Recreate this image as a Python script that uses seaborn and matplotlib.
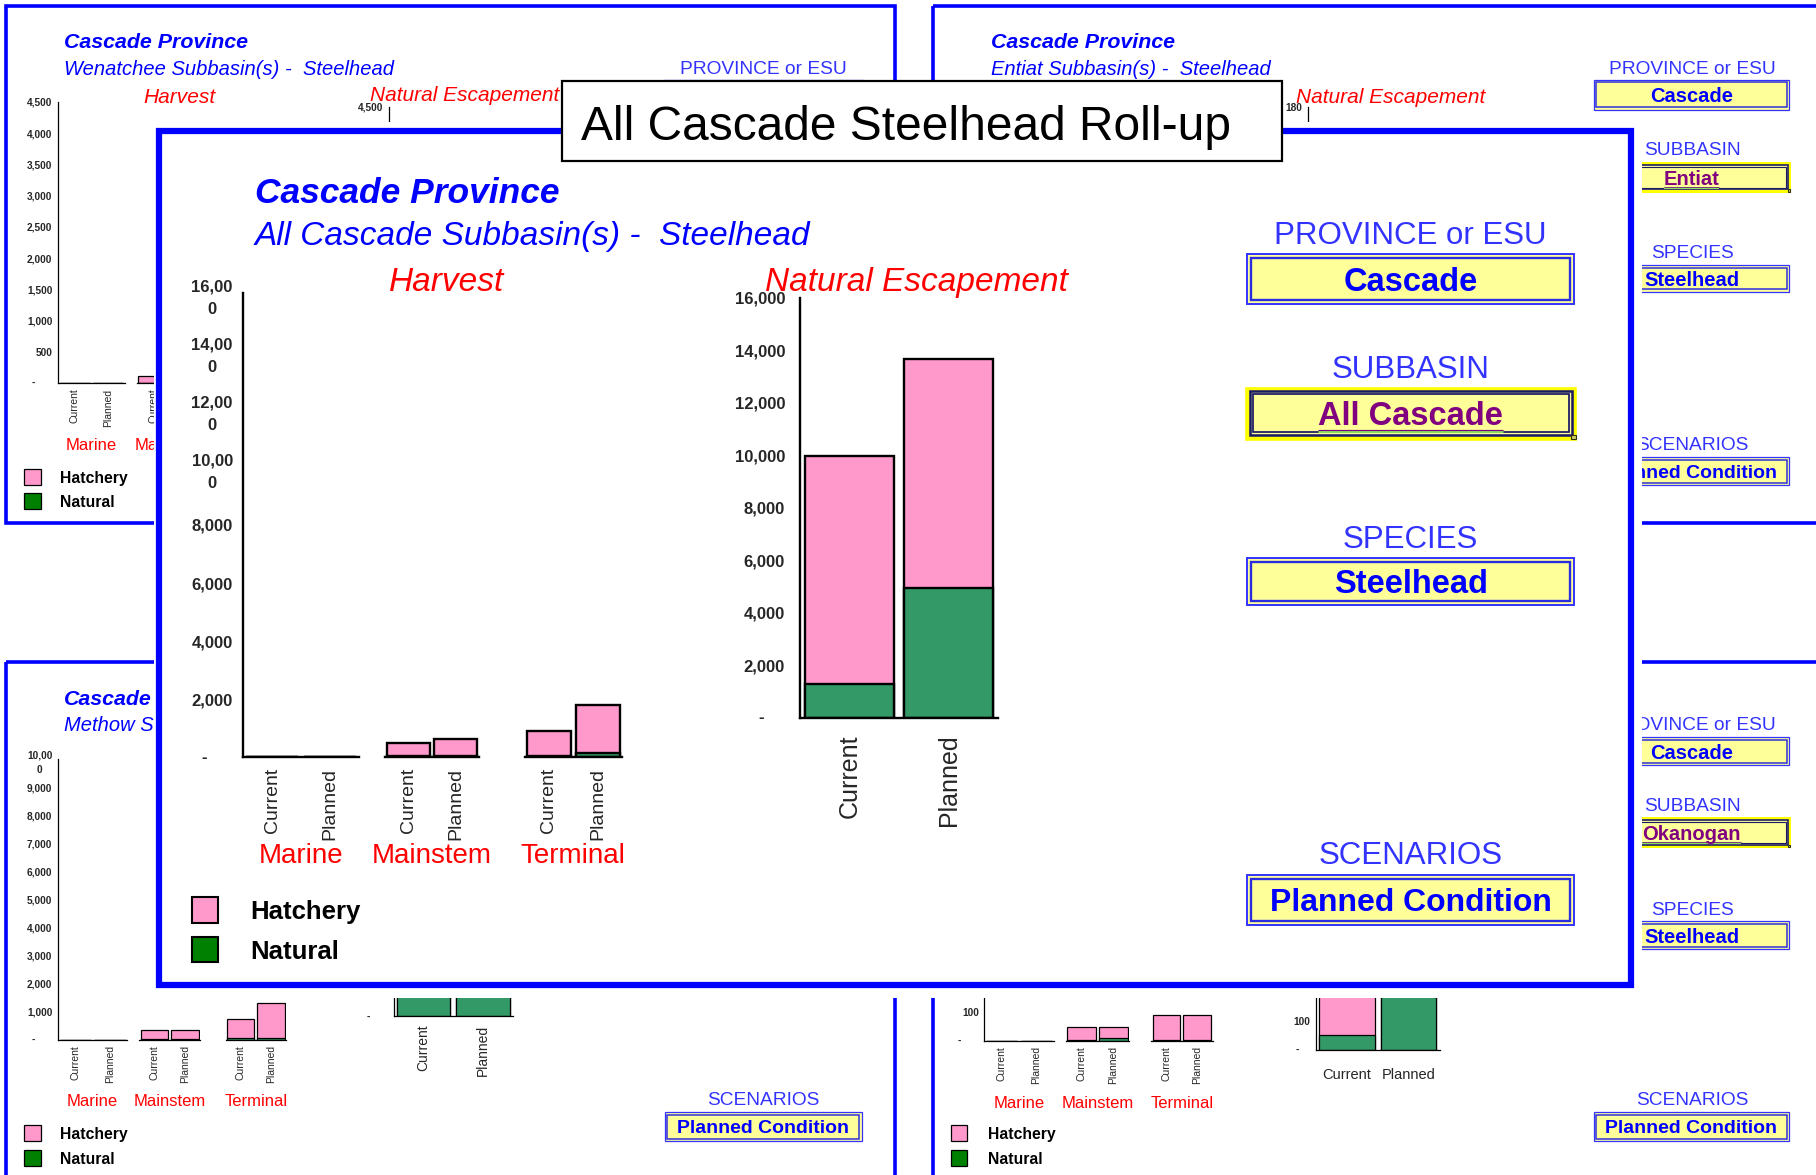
import matplotlib
matplotlib.use("Agg")
import matplotlib.pyplot as plt
from matplotlib.patches import Rectangle
from matplotlib.transforms import Bbox
import seaborn as sns

# ---------------- values ----------------
scenarios = ["Current", "Planned"]
areas = ["Marine", "Mainstem", "Terminal"]

# main panel: All Cascade roll-up
allc_marine_hatchery = [0, 0]
allc_marine_natural = [0, 0]
allc_mainstem_hatchery = [430, 560]
allc_mainstem_natural = [40, 50]
allc_terminal_hatchery = [840, 1630]
allc_terminal_natural = [45, 150]
allc_escape_hatchery = [8690, 8690]
allc_escape_natural = [1270, 4950]

# Wenatchee (top left, mostly covered)
wen_marine_hatchery = [0, 0]
wen_marine_natural = [0, 0]
wen_mainstem_hatchery = [100, 100]
wen_mainstem_natural = [10, 10]

# Methow (bottom left)
met_marine_hatchery = [0, 0]
met_marine_natural = [0, 0]
met_mainstem_hatchery = [300, 300]
met_mainstem_natural = [30, 30]
met_terminal_hatchery = [700, 1280]
met_terminal_natural = [40, 40]
met_escape_hatchery = [4000, 4000]
met_escape_natural = [2000, 2500]

# Okanogan (bottom right)
oka_marine_hatchery = [0, 0]
oka_marine_natural = [0, 0]
oka_mainstem_hatchery = [45, 37]
oka_mainstem_natural = [3, 11]
oka_terminal_hatchery = [85, 85]
oka_terminal_natural = [3, 3]
oka_escape_hatchery = [250, 150]
oka_escape_natural = [53, 400]

BLUE = "#0000FF"
HDR = "#3333FF"
RED = "#FF0000"
PINK = "#FF99CC"
GREEN = "#339966"
LEG_GREEN = "#008000"
YELLOW = "#FFFF99"
PURPLE = "#800080"

sns.set_style("white")
plt.rcParams["font.family"] = ["Liberation Sans", "DejaVu Sans"]
plt.rcParams["axes.edgecolor"] = "black"

# layout grid = the shrunk reference (1568 x 1015)
W, H = 1568, 1015
FIG_W, FIG_H = 1816, 1175
fig = plt.figure(figsize=(FIG_W / 100, FIG_H / 100), dpi=100)

# the part of the left dashboards that is not under the roll-up panel
left_strip = Bbox.from_extents(0, 0, 133 / W * FIG_W, FIG_H)


def rect(x0, y0, x1, y1):
    return [x0 / W, 1 - y1 / H, (x1 - x0) / W, (y1 - y0) / H]


def canvas(z):
    ax = fig.add_axes([0, 0, 1, 1], zorder=z)
    ax.set_xlim(0, W)
    ax.set_ylim(H, 0)
    ax.axis("off")
    return ax


def put(ax, x, y, s, fs, clip=None, **kw):
    # y is the visual centre of the capitals
    t = ax.text(x, y + 0.12 * fs, s, fontsize=fs, va="center", **kw)
    if clip is not None:
        t.set_clip_box(clip)
        t.set_clip_on(True)
    return t


def fmt_count(v, wrap):
    if v == 0:
        return ""
    s = f"{v:,}"
    if wrap and len(s) > 5:
        s = s[:5] + "\n" + s[5:]
    return s


def stacked_bars(ax, hatchery, natural, lw):
    total = [h + n for h, n in zip(hatchery, natural)]
    sns.barplot(x=scenarios, y=total, color=PINK, saturation=1, width=0.9,
                edgecolor="black", linewidth=lw, errorbar=None, ax=ax)
    sns.barplot(x=scenarios, y=natural, color=GREEN, saturation=1, width=0.9,
                edgecolor="black", linewidth=lw, errorbar=None, ax=ax)


def style_axes(ax, ymax, step, show_y, fs_y, wrap, lw, tick_len, xrot, fs_x,
               xpad, ypad, dash_off, shown=None, xlabels=True):
    ax.set_facecolor("none")
    ax.set_xlim(-0.5, 1.5)
    ax.set_ylim(0, ymax)
    sns.despine(ax=ax, top=True, right=True, left=not show_y)
    for s in ["bottom", "left"]:
        ax.spines[s].set_linewidth(lw)
    ax.set_xticks([0, 1])
    ax.set_xticklabels(scenarios if xlabels else ["", ""], rotation=xrot,
                       fontsize=fs_x)
    ax.set_xticks([-0.5, 0.5, 1.5], minor=True)
    ax.tick_params(axis="x", which="major", length=0, pad=xpad)
    ax.tick_params(axis="x", which="minor", length=tick_len, width=lw,
                   direction="out")
    if show_y:
        ticks = list(range(0, ymax + 1, step))
        if shown is not None:
            ticks = [t for t in ticks if t in shown]
        ax.set_yticks(ticks)
        labels = ax.set_yticklabels([fmt_count(t, wrap) for t in ticks],
                                    fontsize=fs_y, fontweight="bold")
        for lb in labels:
            lb.set_multialignment("center")
            lb.set_linespacing(1.6)
        ax.tick_params(axis="y", length=tick_len, width=lw, direction="out",
                       pad=ypad)
        if 0 in ticks:
            ax.annotate("-", xy=(0, 0), xycoords=("axes fraction", "data"),
                        xytext=(-dash_off, 0), textcoords="offset points",
                        ha="center", va="center", fontsize=fs_y,
                        fontweight="bold")
    else:
        ax.set_yticks([])


def harvest_block(segments, y_top, y_bot, ymax, step, data, z, big, shown=None):
    if big:
        opts = dict(fs_y=12, wrap=True, lw=1.7, tick_len=4.5, xrot=90, fs_x=14,
                    xpad=8, ypad=3, dash_off=28)
        grp_fs, grp_pad = 20, 2
    else:
        opts = dict(fs_y=7.3, wrap=(ymax >= 10000), lw=0.9, tick_len=2.5,
                    xrot=90, fs_x=7.5, xpad=4, ypad=1.5, dash_off=18)
        grp_fs, grp_pad = 12, 8
    for i, ((x0, x1), (hatch, nat)) in enumerate(zip(segments, data)):
        ax = fig.add_axes(rect(x0, y_top, x1, y_bot), zorder=z)
        stacked_bars(ax, hatch, nat, opts["lw"])
        style_axes(ax, ymax, step, i == 0, shown=shown, **opts)
        ax.set_xlabel(areas[i], color=RED, fontsize=grp_fs, labelpad=grp_pad)


def escape_block(x0, y_top, x1, y_bot, ymax, step, hatch, nat, z, fs_y, fs_x,
                 xrot, xpad, ypad, dash_off, lw, tick_len, shown=None):
    ax = fig.add_axes(rect(x0, y_top, x1, y_bot), zorder=z)
    if hatch is not None:
        stacked_bars(ax, hatch, nat, lw)
    style_axes(ax, ymax, step, True, fs_y, False, lw, tick_len, xrot, fs_x,
               xpad, ypad, dash_off, shown=shown, xlabels=hatch is not None)
    return ax


def select_box(ax, x0, y0, x1, y1, text, fs, inset, purple=False, lw=1.0):
    cx, cy = (x0 + x1) / 2, (y0 + y1) / 2
    if purple:
        ax.add_patch(Rectangle((x0, y0), x1 - x0, y1 - y0, facecolor=YELLOW,
                               edgecolor="#FFFF00", lw=lw * 2.4))
        ax.add_patch(Rectangle((x0 + inset * 0.6, y0 + inset * 0.6),
                               x1 - x0 - inset * 1.2, y1 - y0 - inset * 1.2,
                               facecolor="none", edgecolor="#1A1A66",
                               lw=lw * 1.3))
        ax.add_patch(Rectangle((x0 + inset * 1.3, y0 + inset * 1.3),
                               x1 - x0 - inset * 2.6, y1 - y0 - inset * 2.6,
                               facecolor="none", edgecolor="#1A1A66",
                               lw=lw * 0.9))
        t = put(ax, cx, cy, text, fs, ha="center", fontweight="bold",
                color=PURPLE)
        bb = t.get_window_extent(fig.canvas.get_renderer())
        (ux0, uy0), (ux1, _) = ax.transData.inverted().transform(
            [[bb.x0, bb.y0], [bb.x1, bb.y1]])
        uy = uy0 - inset * 0.35
        ax.plot([ux0, ux1], [uy, uy], color="#88E060", lw=lw * 1.6,
                solid_capstyle="butt")
        ax.plot([ux0, ux1], [uy - inset * 0.2, uy - inset * 0.2],
                color=PURPLE, lw=lw * 0.6, solid_capstyle="butt")
        hs = inset * 1.1
        ax.add_patch(Rectangle((x1 - hs * 0.6, y1 - hs * 0.6), hs, hs,
                               facecolor="#CCCC66", edgecolor="#333300",
                               lw=0.8))
    else:
        ax.add_patch(Rectangle((x0, y0), x1 - x0, y1 - y0, facecolor=YELLOW,
                               edgecolor=HDR, lw=lw))
        ax.add_patch(Rectangle((x0 + inset, y0 + inset), x1 - x0 - 2 * inset,
                               y1 - y0 - 2 * inset, facecolor="none",
                               edgecolor="#2B2BE0", lw=lw * 1.2))
        put(ax, cx, cy, text, fs, ha="center", fontweight="bold", color=BLUE)


def legend(ax, x, y_h, y_n, size, tx, fs, lw):
    for yc, col, lab in [(y_h, PINK, "Hatchery"), (y_n, LEG_GREEN, "Natural")]:
        ax.add_patch(Rectangle((x, yc - size / 2), size, size, facecolor=col,
                               edgecolor="black", lw=lw))
        put(ax, tx, yc, lab, fs, ha="left", fontweight="bold", color="black")


def headings(ax, x, y1, y2, title, sub, fs1, fs2, clip=None):
    put(ax, x, y1, title, fs1, clip=clip, ha="left", fontweight="bold",
        fontstyle="italic", color=BLUE)
    put(ax, x, y2, sub, fs2, clip=clip, ha="left", fontstyle="italic",
        color=BLUE)


# ---------------- background dashboards ----------------
bg = canvas(1)
for (x0, y0, x1, y1) in [(5, 5, 773, 452), (806, 5, 1640, 452),
                         (5, 572, 773, 1100), (806, 572, 1640, 1100)]:
    bg.add_patch(Rectangle((x0, y0), x1 - x0, y1 - y0, facecolor="none",
                           edgecolor=BLUE, lw=2.6))

# top left: Wenatchee
headings(bg, 55, 35, 58, "Cascade Province",
         "Wenatchee Subbasin(s) -  Steelhead", 15.4, 14.5)
put(bg, 155, 82, "Harvest", 15, ha="center", fontstyle="italic", color=RED)
put(bg, 401, 81, "Natural Escapement", 15, ha="center", fontstyle="italic",
    color=RED)
put(bg, 659, 58, "PROVINCE or ESU", 13.8, ha="center", color=HDR)
select_box(bg, 573, 69, 745, 95, "Cascade", 14.5, 2.2, lw=0.9)
legend(bg, 21, 412, 433, 14, 52, 11.3, 0.9)

# top right: Entiat
headings(bg, 856, 35, 58, "Cascade Province",
         "Entiat Subbasin(s) -  Steelhead", 15.4, 14.5)
put(bg, 1201, 82, "Natural Escapement", 15, ha="center", fontstyle="italic",
    color=RED)
for yh, lab, (by0, by1), txt, purple in [
        (58, "PROVINCE or ESU", (69, 95), "Cascade", False),
        (128, "SUBBASIN", (141, 165), "Entiat", True),
        (217, "SPECIES", (229, 252), "Steelhead", False),
        (383, "SCENARIOS", (395, 419), "Planned Condition", False)]:
    put(bg, 1461, yh, lab, 13.8, ha="center", color=HDR)
    select_box(bg, 1376, by0, 1545, by1, txt, 14.5 if len(txt) < 12 else 14,
               2.2, purple=purple, lw=0.9)

# bottom left: Methow (only the left edge of its heading shows)
headings(bg, 55, 602, 625, "Cascade", "Methow S", 15.4, 14.5, clip=left_strip)
put(bg, 155, 649, "H", 15, clip=left_strip, ha="center", fontstyle="italic",
    color=RED)
legend(bg, 21, 979, 1000, 14, 52, 11.3, 0.9)
put(bg, 659, 949, "SCENARIOS", 13.8, ha="center", color=HDR)
select_box(bg, 574, 961, 744, 986, "Planned Condition", 14, 2.2, lw=0.9)

# bottom right: Okanogan
for yh, lab, (by0, by1), txt, purple in [
        (625, "PROVINCE or ESU", (637, 661), "Cascade", False),
        (695, "SUBBASIN", (707, 731), "Okanogan", True),
        (785, "SPECIES", (796, 820), "Steelhead", False),
        (949, "SCENARIOS", (961, 986), "Planned Condition", False)]:
    put(bg, 1461, yh, lab, 13.8, ha="center", color=HDR)
    select_box(bg, 1376, by0, 1545, by1, txt, 14.5 if len(txt) < 12 else 14,
               2.2, purple=purple, lw=0.9)
legend(bg, 821, 979, 1000, 14, 853, 11.3, 0.9)

# mini charts (only the tick labels that show outside the roll-up panel)
harvest_block([(50, 108), (118, 176)], 88, 331, 4500, 500,
              [(wen_marine_hatchery, wen_marine_natural),
               (wen_mainstem_hatchery, wen_mainstem_natural)], 2, False)
escape_block(336, 92, 440, 335, 4500, 500, None, None, 2, 7.3, 7.5, 90, 4,
             1.5, 18, 0.9, 2.5, shown=[4500])
escape_block(1129, 92, 1233, 335, 180, 20, None, None, 2, 7.3, 7.5, 90, 4,
             1.5, 18, 0.9, 2.5, shown=[180])
harvest_block([(50, 110), (120, 173), (195, 247)], 656, 898, 10000, 1000,
              [(met_marine_hatchery, met_marine_natural),
               (met_mainstem_hatchery, met_mainstem_natural),
               (met_terminal_hatchery, met_terminal_natural)], 2, False)
escape_block(340, 636, 443, 878, 10000, 1000, met_escape_hatchery,
             met_escape_natural, 2, 7.3, 10, 90, 6, 1.5, 18, 0.9, 2.5,
             shown=[0])
harvest_block([(850, 910), (920, 975), (994, 1047)], 649, 899, 1000, 100,
              [(oka_marine_hatchery, oka_marine_natural),
               (oka_mainstem_hatchery, oka_mainstem_natural),
               (oka_terminal_hatchery, oka_terminal_natural)], 2, False,
              shown=[0, 100])
escape_block(1136, 657, 1243, 907, 1000, 100, oka_escape_hatchery,
             oka_escape_natural, 2, 7.3, 10.5, 0, 13, 1.5, 13, 0.9, 2.5,
             shown=[0, 100])

# ---------------- main roll-up panel ----------------
ov = canvas(5)
ov.add_patch(Rectangle((133, 105), 1418 - 133, 862 - 105, facecolor="white",
                       edgecolor="none"))
ov.add_patch(Rectangle((137, 113), 1408 - 137, 851 - 113, facecolor="none",
                       edgecolor=BLUE, lw=4.5))
headings(ov, 220, 164, 201, "Cascade Province",
         "All Cascade Subbasin(s) -  Steelhead", 25.5, 24)
put(ov, 386, 241, "Harvest", 24, ha="center", fontstyle="italic", color=RED)
put(ov, 791, 241, "Natural Escapement", 24, ha="center", fontstyle="italic",
    color=RED)
for yh, lab, (by0, by1), txt, purple in [
        (201, "PROVINCE or ESU", (219, 263), "Cascade", False),
        (317, "SUBBASIN", (336, 378), "All Cascade", True),
        (464, "SPECIES", (482, 523), "Steelhead", False),
        (737, "SCENARIOS", (756, 799), "Planned Condition", False)]:
    put(ov, 1218, yh, lab, 22.5, ha="center", color=HDR)
    select_box(ov, 1077, by0, 1359, by1, txt, 23.5 if len(txt) < 12 else 23,
               3.5, purple=purple, lw=1.4)
legend(ov, 166, 786, 820, 22, 216, 18.5, 1.5)

harvest_block([(210, 310), (332, 414), (453, 537)], 253, 654, 16000, 2000,
              [(allc_marine_hatchery, allc_marine_natural),
               (allc_mainstem_hatchery, allc_mainstem_natural),
               (allc_terminal_hatchery, allc_terminal_natural)], 6, True)
escape_block(691, 257, 862, 620, 16000, 2000, allc_escape_hatchery,
             allc_escape_natural, 6, 12, 18, 90, 12, 6.5, 28, 1.7, 4.5)

# ---------------- roll-up title box ----------------
top = canvas(10)
top.add_patch(Rectangle((485, 70), 1107 - 485, 139 - 70, facecolor="white",
                        edgecolor="black", lw=1.6))
put(top, 502, 106, "All Cascade Steelhead Roll-up", 34.5, ha="left",
    color="black")

fig.savefig("out.png", dpi=100)
